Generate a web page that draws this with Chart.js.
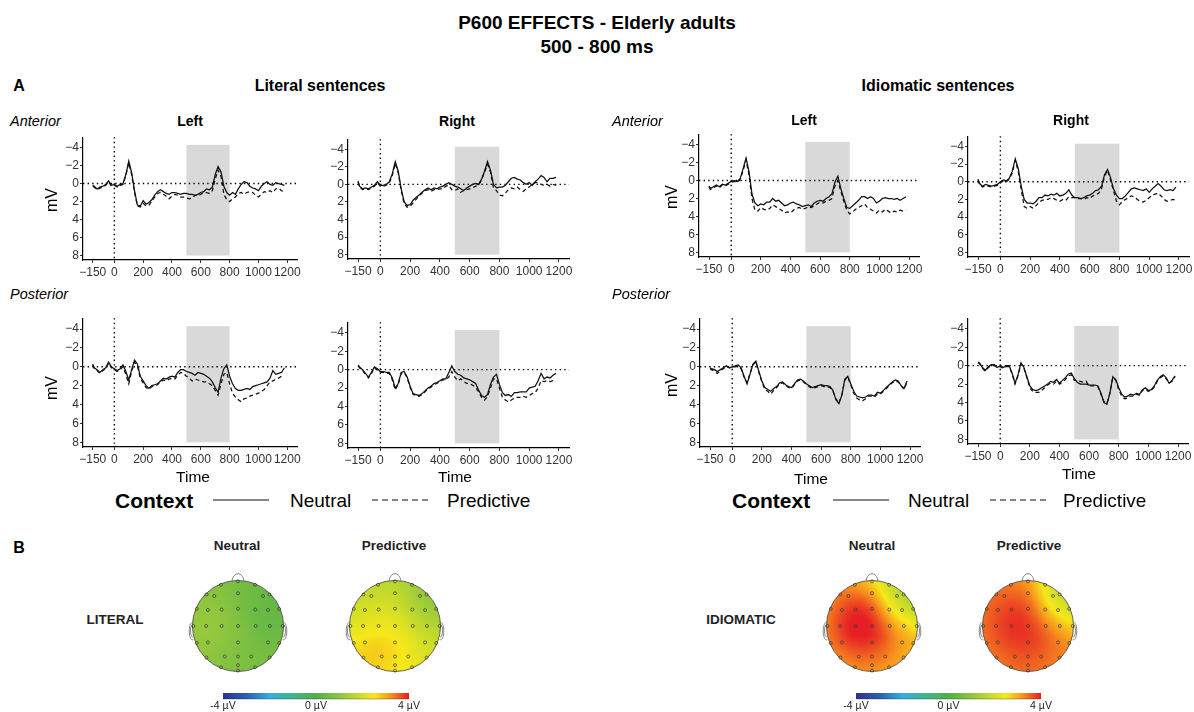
<!DOCTYPE html>
<html>
<head>
<meta charset="utf-8">
<script src="https://cdn.jsdelivr.net/npm/chart.js@4.4.1/dist/chart.umd.min.js"></script>
<style>
  body { margin: 0; width: 1194px; height: 712px; position: relative; overflow: hidden; background: #fff;
         font-family: "Liberation Sans", Arial, sans-serif; color: #000; }
  canvas { position: absolute; }
  svg { display: block; }
  .t { position: absolute; white-space: nowrap; transform: translate(-50%, -50%); line-height: 1; }
  .l { position: absolute; white-space: nowrap; transform: translate(0, -50%); line-height: 1; }
</style>
</head>
<body>
<script>
// time axis (ms) shared by every waveform
const TIME = [-150, -140, -120, -100, -80, -60, -40, -20, 0, 20, 40, 60, 80, 100, 120, 140,
  160, 180, 200, 220, 240, 260, 280, 300, 320, 340, 360, 380, 400, 420, 440, 460,
  480, 500, 520, 540, 560, 580, 600, 620, 640, 660, 680, 700, 720, 740, 760, 780,
  800, 820, 840, 860, 880, 900, 920, 940, 960, 980, 1000, 1020, 1040, 1060, 1080, 1100,
  1120, 1140, 1160, 1180];
const X_TICKS = [-150, 0, 200, 400, 600, 800, 1000, 1200];
const Y_TICKS = [-4, -2, 0, 2, 4, 6, 8];
const WINDOW_MS = [500, 800];
const WINDOW_UV = [-4.3, 8];

// Literal sentences (µV, positive plotted downwards)
const LIT_ANT_L_NEU = [0.2, 0.3, 0.6, 0.4, 0.3, 0.1, -0.3, 0.2, 0.1, 0.3, 0.1, 0.0, -1.0, -2.5, -1.2, 0.8,
  2.4, 2.5, 1.9, 2.3, 2.1, 1.8, 1.3, 0.9, 0.7, 0.9, 1.1, 1.2, 1.0, 1.0, 1.1, 1.2,
  1.1, 1.1, 1.2, 1.2, 1.3, 1.2, 1.0, 0.9, 0.6, 0.7, 0.4, -1.0, -1.9, -1.3, 0.3, 1.0,
  1.3, 1.0, 1.2, 0.6, 0.1, -0.2, -0.1, 0.3, 0.5, 0.6, 0.8, 0.3, 0.0, -0.2, 0.1, 0.2,
  -0.1, 0.0, 0.1, 0.2];
const LIT_ANT_L_PRE = [0.3, 0.4, 0.7, 0.5, 0.4, 0.2, -0.2, 0.3, 0.2, 0.4, 0.2, 0.1, -0.9, -2.3, -1.0, 1.0,
  2.5, 2.6, 2.2, 2.5, 2.4, 2.0, 1.5, 1.1, 1.0, 1.2, 1.4, 1.7, 1.4, 1.2, 1.3, 1.5,
  1.5, 1.6, 1.7, 1.6, 1.3, 1.4, 1.2, 1.0, 1.0, 1.1, 0.8, -0.5, -1.5, -0.8, 1.2, 1.8,
  2.0, 1.7, 1.5, 1.1, 1.0, 1.2, 1.0, 0.9, 1.0, 1.3, 1.5, 1.2, 0.9, 1.0, 0.8, 1.0,
  0.6, 0.5, 0.8, 0.9];
const LIT_ANT_R_NEU = [-0.4, 0.2, 0.5, 0.4, 0.5, 0.3, 0.1, -0.3, 0.1, 0.1, 0.0, -0.3, -1.2, -2.6, -1.5, 0.5,
  2.0, 2.4, 2.3, 1.8, 1.5, 1.2, 0.9, 0.6, 0.4, 0.6, 0.4, 0.5, 0.3, 0.2, 0.0, -0.2,
  0.0, 0.2, 0.3, 0.5, 0.7, 0.4, 0.2, 0.0, -0.1, 0.0, -0.6, -1.5, -2.6, -1.6, 0.0, 0.4,
  0.3, 0.3, 0.1, -0.3, -0.7, -0.8, -0.6, -0.5, -0.2, 0.0, -0.2, 0.1, -0.3, -0.6, -1.0, -0.8,
  -0.3, -0.7, -0.7, -0.8];
const LIT_ANT_R_PRE = [-0.3, 0.3, 0.6, 0.5, 0.6, 0.4, 0.2, -0.2, 0.2, 0.2, 0.1, -0.2, -1.0, -2.4, -1.3, 0.7,
  2.2, 2.6, 2.5, 2.1, 1.7, 1.3, 1.0, 0.7, 0.6, 0.8, 0.6, 0.6, 0.5, 0.5, 0.2, 0.1,
  0.6, 0.7, 0.5, 0.9, 0.7, 0.6, 0.5, 0.4, 0.2, 0.1, -0.5, -1.4, -2.3, -1.4, 0.4, 0.7,
  1.2, 1.3, 1.0, 0.6, 0.4, 0.5, 0.3, 0.6, 0.8, 0.5, 0.3, 0.0, -0.2, -0.2, 0.0, 0.1,
  0.0, 0.2, 0.0, 0.1];
const LIT_POS_L_NEU = [-0.3, 0.1, 0.3, 0.6, 0.3, 0.1, -0.5, 0.0, 0.2, 0.4, 0.2, -0.2, 0.5, 1.4, 0.3, -0.7,
  -0.3, 1.0, 1.5, 2.0, 2.3, 2.0, 1.9, 1.8, 1.5, 1.2, 1.3, 1.1, 1.0, 1.1, 0.6, 0.3,
  0.3, 0.5, 0.6, 0.7, 0.9, 0.6, 0.7, 0.8, 1.0, 1.2, 1.6, 2.2, 2.7, 1.2, 0.2, -0.2,
  1.0, 1.8, 2.3, 2.5, 2.5, 2.4, 2.3, 2.4, 2.1, 2.0, 1.9, 1.8, 1.7, 1.6, 1.2, 0.4,
  0.8, 0.7, 0.6, 0.1];
const LIT_POS_L_PRE = [-0.2, 0.2, 0.4, 0.7, 0.4, 0.2, -0.4, 0.1, 0.3, 0.5, 0.3, 0.0, 0.8, 1.8, 0.5, -0.5,
  -0.1, 1.2, 1.7, 2.2, 2.4, 2.1, 2.0, 1.9, 1.6, 1.4, 1.5, 1.3, 1.2, 1.3, 0.9, 0.6,
  0.7, 1.0, 1.2, 1.5, 1.3, 1.4, 1.5, 1.6, 1.6, 1.8, 2.0, 2.5, 3.0, 1.8, 0.8, 0.6,
  1.8, 2.8, 3.2, 3.5, 3.7, 3.4, 3.3, 3.1, 3.0, 2.9, 2.8, 2.6, 2.4, 2.0, 1.6, 1.5,
  1.3, 1.2, 1.0, 1.0];
const LIT_POS_R_NEU = [-0.5, -0.3, 0.0, 0.4, 0.8, 0.3, -0.3, -0.1, 0.2, 0.2, 0.3, 0.3, 0.9, 2.0, 1.5, 0.3,
  0.2, 0.8, 1.8, 2.6, 2.7, 2.8, 2.6, 2.3, 2.0, 1.8, 1.5, 1.4, 1.2, 1.0, 1.0, 0.3,
  -0.4, 0.2, 0.5, 0.6, 0.9, 1.0, 1.1, 1.3, 1.5, 2.2, 2.8, 3.0, 2.7, 1.6, 0.8, 0.5,
  1.6, 2.5, 2.8, 2.7, 2.9, 2.5, 2.5, 2.4, 2.4, 2.4, 2.0, 1.9, 1.8, 1.2, 0.4, 1.0,
  0.8, 0.9, 0.6, 0.4];
const LIT_POS_R_PRE = [-0.4, -0.2, 0.1, 0.5, 0.9, 0.4, -0.2, 0.0, 0.3, 0.3, 0.4, 0.4, 1.1, 2.2, 1.6, 0.4,
  0.3, 0.9, 1.9, 2.7, 2.8, 2.9, 2.7, 2.4, 2.1, 1.9, 1.6, 1.5, 1.3, 1.1, 1.1, 0.8,
  0.2, 0.8, 1.2, 1.0, 1.3, 1.5, 1.5, 1.7, 1.9, 2.4, 3.0, 3.3, 2.9, 2.0, 1.0, 1.0,
  2.0, 3.0, 3.3, 3.5, 3.3, 3.1, 3.0, 3.0, 2.9, 3.0, 2.8, 2.6, 2.5, 2.0, 1.2, 1.3,
  1.2, 1.3, 1.2, 1.3];

// Idiomatic sentences
const ID_ANT_L_NEU = [0.6, 0.9, 0.7, 0.5, 0.7, 0.4, 0.5, 0.3, 0.1, 0.0, 0.1, -0.2, -1.3, -2.5, -1.0, 1.5,
  2.5, 2.8, 2.6, 2.7, 2.4, 2.4, 2.0, 2.3, 2.2, 2.5, 2.8, 2.7, 2.5, 2.4, 2.6, 2.7,
  2.9, 2.8, 2.7, 2.9, 2.5, 2.3, 2.2, 2.3, 2.0, 1.8, 1.5, 0.2, -0.5, 0.9, 2.0, 3.0,
  3.1, 2.8, 2.5, 2.2, 1.8, 1.8, 2.0, 1.8, 2.0, 2.5, 2.3, 2.0, 1.9, 2.0, 2.0, 2.1,
  2.0, 2.2, 2.0, 1.8];
const ID_ANT_L_PRE = [0.7, 1.0, 0.8, 0.6, 0.8, 0.5, 0.6, 0.4, 0.2, 0.1, 0.2, -0.1, -1.1, -2.3, -0.6, 2.0,
  3.3, 3.4, 3.0, 3.2, 3.3, 3.1, 2.7, 2.9, 3.1, 3.3, 3.6, 3.5, 3.6, 3.3, 3.1, 3.0,
  3.2, 3.1, 2.9, 3.0, 2.8, 2.6, 2.4, 2.5, 2.3, 2.2, 2.0, 0.6, 0.0, 1.2, 2.3, 3.3,
  3.7, 3.5, 3.2, 3.0, 2.8, 2.6, 3.0, 3.2, 3.4, 3.6, 3.3, 3.5, 3.2, 3.4, 3.6, 3.4,
  3.5, 3.3, 3.4, 3.3];
const ID_ANT_R_NEU = [-0.3, 0.2, 0.5, 0.3, 0.4, 0.5, 0.4, 0.3, 0.0, -0.2, -0.1, -0.4, -1.2, -2.6, -1.5, 0.5,
  2.0, 2.4, 2.4, 2.5, 2.2, 1.8, 1.8, 1.5, 1.6, 1.4, 1.5, 1.3, 1.6, 1.5, 1.3, 0.9,
  1.5, 1.8, 1.8, 1.9, 1.8, 1.6, 1.5, 1.3, 1.0, 0.9, 0.5, -0.8, -1.4, -0.5, 0.8, 1.5,
  1.9, 1.9, 1.6, 1.2, 0.8, 0.7, 0.8, 0.9, 1.0, 0.8, 1.2, 0.8, 0.5, 0.2, 0.5, 0.9,
  1.0, 0.9, 1.0, 0.6];
const ID_ANT_R_PRE = [-0.2, 0.3, 0.6, 0.4, 0.5, 0.6, 0.5, 0.4, 0.1, -0.1, 0.0, -0.3, -1.0, -2.4, -1.2, 0.9,
  2.8, 3.0, 2.8, 3.0, 2.7, 2.3, 2.1, 2.0, 2.0, 1.8, 1.9, 2.1, 2.2, 2.0, 2.1, 1.7,
  1.8, 1.8, 1.9, 1.9, 2.0, 1.8, 1.9, 1.6, 1.5, 1.3, 0.8, -0.6, -1.3, -0.2, 1.0, 2.2,
  2.6, 2.2, 2.0, 1.8, 1.6, 1.7, 2.0, 2.2, 2.3, 2.1, 1.8, 1.5, 1.4, 1.3, 1.6, 2.0,
  2.2, 2.1, 2.0, 2.1];
const ID_POS_L_NEU = [0.1, 0.2, 0.3, 0.5, 0.3, 0.1, -0.1, 0.1, 0.0, -0.1, -0.2, 0.1, 1.0, 1.8, 0.8, -0.3,
  -0.6, 0.5, 1.5, 2.2, 2.4, 2.6, 2.3, 2.1, 1.7, 1.6, 1.9, 2.1, 2.2, 1.8, 1.4, 1.3,
  1.5, 1.8, 2.0, 2.2, 2.1, 2.0, 1.9, 2.0, 2.0, 2.1, 2.5, 3.5, 3.9, 3.0, 1.3, 1.0,
  1.8, 2.6, 3.1, 3.2, 3.3, 3.2, 3.0, 3.0, 3.1, 2.7, 2.8, 2.5, 2.2, 1.9, 1.6, 1.4,
  1.5, 2.0, 2.3, 1.5];
const ID_POS_L_PRE = [0.2, 0.3, 0.5, 0.7, 0.4, 0.2, 0.0, 0.1, 0.1, 0.0, -0.1, 0.2, 1.1, 1.7, 0.7, -0.2,
  -0.5, 0.6, 1.6, 2.4, 2.6, 2.9, 2.5, 2.2, 1.8, 1.7, 2.0, 2.2, 2.3, 1.9, 1.5, 1.4,
  1.6, 1.9, 2.1, 2.3, 2.2, 2.1, 2.0, 2.1, 2.1, 2.2, 2.6, 3.4, 3.8, 3.0, 1.4, 1.1,
  1.9, 2.8, 3.3, 3.5, 3.6, 3.4, 3.1, 3.1, 3.2, 2.9, 2.9, 2.6, 2.3, 2.0, 1.7, 1.5,
  1.6, 2.0, 2.4, 1.6];
const ID_POS_R_NEU = [-0.4, -0.3, 0.2, 0.5, 0.1, -0.1, -0.1, 0.2, 0.0, 0.2, 0.0, 0.0, 0.8, 1.9, 1.0, -0.3,
  0.2, 1.2, 2.2, 2.6, 2.7, 2.6, 2.4, 2.2, 2.0, 1.7, 1.8, 1.5, 1.9, 1.6, 1.3, 0.9,
  0.8, 1.4, 1.8, 2.0, 2.0, 2.0, 2.1, 2.1, 2.1, 2.2, 3.0, 4.0, 4.2, 3.0, 1.2, 1.5,
  2.4, 3.1, 3.4, 3.3, 3.1, 3.2, 3.0, 3.1, 2.6, 2.4, 2.7, 2.6, 2.2, 1.6, 1.2, 1.0,
  1.3, 1.9, 1.6, 1.1];
const ID_POS_R_PRE = [-0.3, -0.2, 0.3, 0.6, 0.2, 0.0, 0.0, 0.2, 0.1, 0.3, 0.1, 0.1, 0.9, 2.0, 1.1, -0.2,
  0.3, 1.3, 2.4, 2.8, 2.9, 2.9, 2.7, 2.4, 2.1, 1.9, 2.0, 1.7, 2.0, 1.8, 1.5, 1.1,
  1.0, 1.6, 1.6, 1.7, 1.8, 1.7, 2.2, 2.2, 2.2, 2.3, 3.1, 3.9, 4.1, 3.0, 1.3, 1.6,
  2.6, 3.3, 3.6, 3.5, 3.3, 3.3, 3.1, 3.2, 2.7, 2.5, 2.8, 2.7, 2.3, 1.7, 1.3, 1.1,
  1.4, 1.9, 1.7, 1.2];

// electrode layout (unit head, anterior = +y)
const ELEC_X = [0, 0.375, 0.693, 0.905, 0.98, 0.905, 0.693, 0.375, 0, -0.375, -0.693, -0.905, -0.98, -0.905, -0.693, -0.375,
  -0.52, 0, 0.55, -0.66, -0.36, 0, 0.38, 0.66, -0.7, -0.36, 0, 0.39, 0.7, -0.66, 0, 0.66, -0.29, 0, 0.29, 0];
const ELEC_Y = [0.98, 0.905, 0.693, 0.375, 0, -0.375, -0.693, -0.905, -0.98, -0.905, -0.693, -0.375, 0, 0.375, 0.693, 0.905,
  0.66, 0.72, 0.66, 0.35, 0.36, 0.38, 0.36, 0.35, 0, 0, 0, 0, 0, -0.36, -0.36, -0.36, -0.67, -0.67, -0.67, -0.86];
// mean amplitude 500-800 ms per electrode (µV)
const TOPO_LIT_NEU = [0.6, 0.5, 0.3, 0.3, 0.5, 0.6, 0.6, 0.7, 0.7, 0.8, 1.0, 1.1, 1.1, 1.0, 0.9, 0.8,
  0.9, 0.6, 0.4, 1.2, 1.0, 0.7, 0.4, 0.3, 1.2, 1.1, 0.8, 0.5, 0.3, 1.1, 0.9, 0.5, 1.0, 0.8, 0.6, 0.7];
const TOPO_LIT_PRE = [1.6, 1.3, 0.7, 0.9, 1.4, 1.8, 2.0, 2.3, 2.4, 2.7, 2.7, 2.4, 2.0, 1.7, 1.5, 1.5,
  1.9, 1.8, 1.3, 2.2, 2.2, 2.1, 1.7, 1.2, 2.4, 2.4, 2.4, 2.1, 1.7, 2.9, 2.6, 2.1, 3.0, 2.7, 2.4, 2.5];
const TOPO_ID_NEU = [2.4, 1.4, 0.6, 0.9, 2.2, 2.8, 2.8, 2.8, 2.7, 2.9, 2.9, 2.9, 2.9, 2.8, 2.8, 2.8,
  3.9, 3.5, 2.0, 4.1, 4.2, 3.9, 3.0, 2.2, 4.2, 4.3, 4.1, 3.6, 3.0, 4.2, 4.0, 3.5, 4.0, 3.8, 3.5, 3.4];
const TOPO_ID_PRE = [3.0, 2.1, 0.9, 1.2, 2.4, 3.1, 3.2, 3.2, 3.2, 3.2, 3.2, 3.2, 3.2, 3.2, 3.1, 3.1,
  3.9, 3.7, 2.4, 3.9, 3.9, 3.8, 3.2, 2.4, 3.9, 4.0, 3.9, 3.7, 3.2, 3.9, 3.9, 3.7, 3.9, 3.8, 3.7, 3.6];
const CBAR_RANGE = [-4, 4];
const CBAR_TICKS = [-4, 0, 4];

// colour scale of the scalp maps
const CMAP_V = [-4, -3, -2, -1, 0, 1, 2, 2.5, 3.2, 4];
const CMAP_C = ['#2e3192', '#2b5fb0', '#32aee4', '#3fb68e', '#50b047', '#8ec63f', '#d4df26', '#f6e81a', '#f7941d', '#e61e25'];

Chart.defaults.font.family = '"Liberation Sans", Arial, sans-serif';
Chart.defaults.color = '#333';

const rgbStops = CMAP_C.map(h => [1, 3, 5].map(i => parseInt(h.slice(i, i + 2), 16)));
function colorAt(v) {
  if (v <= CMAP_V[0]) return rgbStops[0];
  for (let i = 1; i < CMAP_V.length; i++) {
    if (v <= CMAP_V[i]) {
      const t = (v - CMAP_V[i - 1]) / (CMAP_V[i] - CMAP_V[i - 1]);
      return rgbStops[i].map((c, k) => Math.round(rgbStops[i - 1][k] + (c - rgbStops[i - 1][k]) * t));
    }
  }
  return rgbStops[rgbStops.length - 1];
}

function addCanvas(x, y, w, h) {
  const cv = document.createElement('canvas');
  cv.width = w; cv.height = h;
  cv.style.left = x + 'px'; cv.style.top = y + 'px';
  document.body.appendChild(cv);
  return cv;
}

function text(str, x, y, css, cls) {
  const d = document.createElement('div');
  d.className = cls || 't';
  d.textContent = str;
  d.style.cssText = `left:${x}px;top:${y}px;` + (css || '');
  document.body.appendChild(d);
  return d;
}

const fmtTick = v => v < 0 ? '\u2212' + Math.abs(v) : String(v);

// grey window + dotted zero lines
const erpDecor = {
  id: 'erpDecor',
  beforeDatasetsDraw(chart) {
    const { ctx, chartArea: a, scales: { x, y } } = chart;
    ctx.save();
    ctx.fillStyle = '#d9d9d9';
    const xl = x.getPixelForValue(WINDOW_MS[0]), xr = x.getPixelForValue(WINDOW_MS[1]);
    const yt = y.getPixelForValue(WINDOW_UV[0]), yb = y.getPixelForValue(WINDOW_UV[1]);
    ctx.fillRect(xl, yt, xr - xl, yb - yt);
    ctx.strokeStyle = '#000';
    ctx.lineWidth = 1.4;
    ctx.setLineDash([1.4, 3.2]);
    ctx.beginPath();
    const x0 = x.getPixelForValue(0), y0 = y.getPixelForValue(0);
    ctx.moveTo(x0, a.top); ctx.lineTo(x0, a.bottom);
    ctx.moveTo(a.left, y0); ctx.lineTo(a.right, y0);
    ctx.stroke();
    ctx.restore();
  }
};

const PAD_L = 40, PAD_T = 6, PAD_R = 10, PAD_B = 24;
function makeErp(box, neu, pre) {
  const [left, top, w, h] = box;
  const cv = addCanvas(left - PAD_L, top - PAD_T, w + PAD_L + PAD_R, h + PAD_T + PAD_B);
  const line = (vals, dash) => ({
    data: TIME.map((t, i) => ({ x: t, y: vals[i] })),
    borderColor: '#111', borderWidth: 1.25, borderDash: dash, pointRadius: 0, tension: 0, fill: false
  });
  new Chart(cv, {
    type: 'line',
    data: { datasets: [line(neu, []), line(pre, [4, 3])] },
    options: {
      responsive: false, animation: false, devicePixelRatio: 1,
      layout: { padding: { left: 0, top: PAD_T, right: PAD_R, bottom: 0 } },
      plugins: { legend: { display: false }, tooltip: { enabled: false } },
      scales: {
        x: {
          type: 'linear', min: -217.5, max: 1267.5,
          afterBuildTicks: s => { s.ticks = X_TICKS.map(v => ({ value: v })); },
          afterFit: s => { s.height = PAD_B; },
          ticks: { callback: fmtTick, font: { size: 12 }, color: '#333', padding: 2, maxRotation: 0, autoSkip: false },
          grid: { drawOnChartArea: false, tickLength: 3, color: '#333' },
          border: { color: '#000', width: 1.2 }
        },
        y: {
          type: 'linear', reverse: true, min: -5.15, max: 8.5,
          afterBuildTicks: s => { s.ticks = Y_TICKS.map(v => ({ value: v })); },
          afterFit: s => { s.width = PAD_L; },
          ticks: { callback: fmtTick, font: { size: 12 }, color: '#333', padding: 1, autoSkip: false },
          grid: { drawOnChartArea: false, tickLength: 3, color: '#333' },
          border: { color: '#000', width: 1.2 }
        }
      }
    },
    plugins: [erpDecor]
  });
}

function field(X, Y, vals) {
  let sw = 0, sv = 0;
  for (let i = 0; i < ELEC_X.length; i++) {
    const dx = X - ELEC_X[i], dy = Y - ELEC_Y[i];
    const w = Math.exp(-(dx * dx + dy * dy) / (2 * 0.28 * 0.28)) + 1e-9;
    sw += w; sv += w * vals[i];
  }
  return sv / sw;
}

function drawScalp(chart, vals) {
  const { ctx } = chart;
  const xs = chart.scales.x, ys = chart.scales.y;
  const P = (x, y) => [xs.getPixelForValue(x), ys.getPixelForValue(y)];
  const [cx, cy] = P(0, 0);
  const r = xs.getPixelForValue(1) - cx;
  const n = Math.ceil(r * 2) + 6;
  const bx = Math.floor(cx - n / 2), by = Math.floor(cy - n / 2);
  const off = document.createElement('canvas');
  off.width = n; off.height = n;
  const octx = off.getContext('2d');
  const img = octx.createImageData(n, n);
  for (let j = 0; j < n; j++) {
    for (let i = 0; i < n; i++) {
      const X = xs.getValueForPixel(bx + i + 0.5), Y = ys.getValueForPixel(by + j + 0.5);
      if (X * X + Y * Y > 1.08) continue;
      const c = colorAt(field(X, Y, vals));
      const k = (j * n + i) * 4;
      img.data[k] = c[0]; img.data[k + 1] = c[1]; img.data[k + 2] = c[2]; img.data[k + 3] = 255;
    }
  }
  octx.putImageData(img, 0, 0);
  ctx.save();
  ctx.beginPath(); ctx.arc(cx, cy, r, 0, Math.PI * 2); ctx.clip();
  ctx.drawImage(off, bx, by);
  ctx.restore();

  ctx.save();
  ctx.strokeStyle = '#555'; ctx.lineWidth = 0.9;
  ctx.beginPath(); ctx.arc(cx, cy, r, 0, Math.PI * 2); ctx.stroke();
  ctx.strokeStyle = '#666'; ctx.lineWidth = 0.8;
  // nose
  ctx.beginPath();
  ctx.moveTo(...P(-0.13, 0.99));
  ctx.bezierCurveTo(...P(-0.1, 1.2), ...P(0.1, 1.2), ...P(0.13, 0.99));
  ctx.stroke();
  // ears
  [-1, 1].forEach(s => {
    ctx.beginPath();
    ctx.moveTo(...P(s * 0.99, 0.08));
    ctx.bezierCurveTo(...P(s * 1.1, 0.1), ...P(s * 1.1, -0.34), ...P(s * 0.98, -0.3));
    ctx.moveTo(...P(s * 0.995, 0.03));
    ctx.bezierCurveTo(...P(s * 1.06, 0.04), ...P(s * 1.06, -0.26), ...P(s * 0.99, -0.24));
    ctx.stroke();
  });
  ctx.restore();
}

const HEAD_SPAN = 1.39;
function makeTopo(cx, cy, vals) {
  const S = 136;
  const cv = addCanvas(cx - S / 2, cy - S / 2, S, S);
  new Chart(cv, {
    type: 'scatter',
    data: { datasets: [{
      data: ELEC_X.map((x, i) => ({ x, y: ELEC_Y[i] })),
      pointRadius: 1.5, pointBorderWidth: 0.7, pointBorderColor: '#3a3a3a', pointBackgroundColor: 'rgba(0,0,0,0)'
    }] },
    options: {
      responsive: false, animation: false, devicePixelRatio: 1,
      layout: { padding: 0 },
      plugins: { legend: { display: false }, tooltip: { enabled: false } },
      scales: {
        x: { display: false, min: -HEAD_SPAN, max: HEAD_SPAN },
        y: { display: false, min: -HEAD_SPAN, max: HEAD_SPAN }
      }
    },
    plugins: [{ id: 'scalp', beforeDatasetsDraw(chart) { drawScalp(chart, vals); } }]
  });
}

function makeColorbar(left, right, top) {
  const PX = 24, H = 21;
  const cv = addCanvas(left - PX, top - 2, right - left + 2 * PX, H);
  new Chart(cv, {
    type: 'scatter',
    data: { datasets: [] },
    options: {
      responsive: false, animation: false, devicePixelRatio: 1,
      layout: { padding: { left: PX, right: PX, top: 2, bottom: 0 } },
      plugins: { legend: { display: false }, tooltip: { enabled: false } },
      scales: {
        x: {
          type: 'linear', min: CBAR_RANGE[0], max: CBAR_RANGE[1],
          afterBuildTicks: s => { s.ticks = CBAR_TICKS.map(v => ({ value: v })); },
          afterFit: s => { s.height = H - 8; },
          ticks: { callback: v => v + ' \u00b5V', font: { size: 10.5 }, color: '#222', padding: 1, maxRotation: 0, autoSkip: false },
          grid: { display: false, drawTicks: false }, border: { display: false }
        },
        y: { display: false, min: 0, max: 1 }
      }
    },
    plugins: [{
      id: 'grad',
      beforeDatasetsDraw(chart) {
        const { ctx, chartArea: a } = chart;
        const xs = chart.scales.x;
        for (let px = Math.floor(a.left); px < Math.ceil(a.right); px++) {
          const c = colorAt(xs.getValueForPixel(px + 0.5));
          ctx.fillStyle = `rgb(${c[0]},${c[1]},${c[2]})`;
          ctx.fillRect(px, a.top, 1, a.bottom - a.top);
        }
        ctx.strokeStyle = 'rgba(0,0,0,0.5)'; ctx.lineWidth = 0.6;
        ctx.beginPath(); ctx.moveTo(a.left, a.bottom); ctx.lineTo(a.right, a.bottom); ctx.stroke();
      }
    }]
  });
}

// ---- section A: waveforms ----
makeErp([83, 135, 214, 125], LIT_ANT_L_NEU, LIT_ANT_L_PRE);
makeErp([348, 137, 221, 122], LIT_ANT_R_NEU, LIT_ANT_R_PRE);
makeErp([83, 316, 214, 131], LIT_POS_L_NEU, LIT_POS_L_PRE);
makeErp([348, 320, 221, 128], LIT_POS_R_NEU, LIT_POS_R_PRE);
makeErp([699, 132, 220, 125], ID_ANT_L_NEU, ID_ANT_L_PRE);
makeErp([968, 134, 221, 123], ID_ANT_R_NEU, ID_ANT_R_PRE);
makeErp([700, 316, 220, 131], ID_POS_L_NEU, ID_POS_L_PRE);
makeErp([968, 316, 220, 128], ID_POS_R_NEU, ID_POS_R_PRE);

// ---- section B: scalp maps ----
makeTopo(238, 626, TOPO_LIT_NEU);
makeTopo(395, 626, TOPO_LIT_PRE);
makeTopo(872, 626, TOPO_ID_NEU);
makeTopo(1028, 626, TOPO_ID_PRE);
makeColorbar(223, 409, 693);
makeColorbar(856, 1041, 693);

// ---- texts ----
const B = 'font-weight:bold;';
text('P600 EFFECTS - Elderly adults', 597, 22, B + 'font-size:19px;');
text('500 - 800 ms', 597, 46, B + 'font-size:19px;');
text('A', 19, 86, B + 'font-size:16px;');
text('B', 19, 548, B + 'font-size:16px;');
text('Literal sentences', 320, 86, B + 'font-size:16px;');
text('Idiomatic sentences', 938, 86, B + 'font-size:16px;');

[[10, 121, 'Anterior'], [10, 294, 'Posterior'], [612, 121, 'Anterior'], [612, 294, 'Posterior']]
  .forEach(([x, y, s]) => text(s, x, y, 'font-style:italic;font-size:14.5px;', 'l'));
[[190, 121, 'Left'], [457, 121, 'Right'], [804, 120, 'Left'], [1071, 120, 'Right']]
  .forEach(([x, y, s]) => text(s, x, y, B + 'font-size:14px;'));
[[52, 200], [52, 388], [672, 197], [672, 385]]
  .forEach(([x, y]) => text('mV', x, y, 'font-size:16px;transform:translate(-50%,-50%) rotate(-90deg);'));
[[193, 477], [455, 477], [811, 479], [1079, 474]]
  .forEach(([x, y]) => text('Time', x, y, 'font-size:15.5px;'));

function legend(x0, xLine1, xNeu, xLine2, xPre, y) {
  text('Context', x0, y, B + 'font-size:21px;', 'l');
  text('Neutral', xNeu, y, 'font-size:19px;', 'l');
  text('Predictive', xPre, y, 'font-size:19px;', 'l');
  const key = (x, dash) => {
    const d = document.createElement('div');
    d.style.cssText = `position:absolute;left:${x}px;top:${y - 2}px;width:56px;height:4px;`;
    d.innerHTML = `<svg width="56" height="4"><line x1="0" y1="2" x2="56" y2="2" stroke="#111" stroke-width="1.2" stroke-dasharray="${dash}"/></svg>`;
    document.body.appendChild(d);
  };
  key(xLine1, '');
  key(xLine2, '6 4');
}
legend(115, 213, 290, 372, 447, 500);
legend(732, 833, 908, 990, 1063, 500);

text('Neutral', 237, 546, B + 'font-size:13.5px;color:#222;');
text('Predictive', 394, 546, B + 'font-size:13.5px;color:#222;');
text('Neutral', 872, 546, B + 'font-size:13.5px;color:#222;');
text('Predictive', 1029, 546, B + 'font-size:13.5px;color:#222;');
text('LITERAL', 115, 620, B + 'font-size:13.5px;color:#222;');
text('IDIOMATIC', 741, 620, B + 'font-size:13.5px;color:#222;');
</script>
</body>
</html>
